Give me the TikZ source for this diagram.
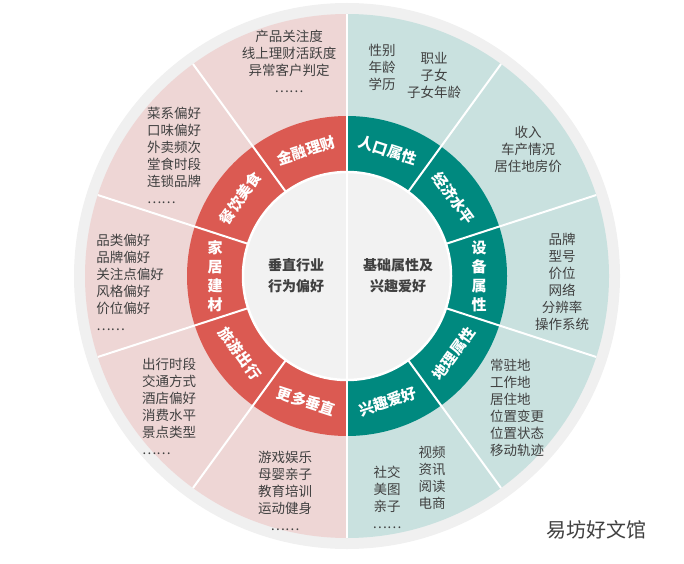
\documentclass[tikz,border=0pt]{standalone}
\usepackage{fontspec}
\setmainfont{Noto Sans CJK SC}
\usetikzlibrary{calc}
\definecolor{ringred}{HTML}{DB5A52}
\definecolor{ringteal}{HTML}{00897F}
\definecolor{lightred}{HTML}{EED6D5}
\definecolor{lightteal}{HTML}{C9E1DF}
\definecolor{txtgray}{HTML}{404040}
\begin{document}
\begin{tikzpicture}[x=1pt,y=1pt,
    item/.style={text=txtgray, font=\fontsize{13.5}{17}\selectfont, align=center, inner sep=0pt},
    tag/.style={text=white, font=\fontsize{15}{18}\selectfont\bfseries, inner sep=0pt}]
  \useasboundingbox (0,0) rectangle (684,563);
  \coordinate (c) at (347,287);
  % rings
  \fill[gray!12] (c) circle (273);
  \fill[lightred] (c) -- ++(90:262) arc (90:270:262) -- cycle;
  \fill[lightteal] (c) -- ++(-90:262) arc (-90:90:262) -- cycle;
  \fill[ringred] (c) -- ++(90:160) arc (90:270:160) -- cycle;
  \fill[ringteal] (c) -- ++(-90:160) arc (-90:90:160) -- cycle;
  \fill[gray!10] (c) circle (104);
  \draw[white, line width=2.5pt] (c) circle (104);
  \foreach \a in {126,162,198,234,54,18,-18,-54}
    \draw[white, line width=2pt] ($(c)+(\a:104)$) -- ($(c)+(\a:262)$);
  \draw[white, line width=2pt] ($(c)+(90:262)$) -- ($(c)+(-90:262)$);
  % center texts
  \node (vert) at (296,287) [item, font=\fontsize{14}{21}\selectfont\bfseries] {垂直行业\\行为偏好};
  \node (base) at (398,287) [item, font=\fontsize{14}{21}\selectfont\bfseries] {基础属性及\\兴趣爱好};
  % ring labels
  \foreach \a/\t in {108/金融理财, 144/餐饮美食, 72/人口属性, 36/经济水平}
    \node[tag, rotate=\a-90] at ($(c)+(\a:132)$) {\t};
  \foreach \a/\t in {216/旅游出行, 252/更多垂直, -36/地理属性, -72/兴趣爱好}
    \node[tag, rotate=\a+90] at ($(c)+(\a:132)$) {\t};
  \node (home) at ($(c)+(180:132)$) [tag, align=center, font=\fontsize{15}{19}\selectfont\bfseries] {家\\居\\建\\材};
  \node (device) at ($(c)+(0:132)$) [tag, align=center, font=\fontsize{15}{19}\selectfont\bfseries] {设\\备\\属\\性};
  % outer lists
  \node (fin) at (289,502) [item] {产品关注度\\线上理财活跃度\\异常客户判定\\……};
  \node (food) at (174,408) [item, align=left] {菜系偏好\\口味偏好\\外卖频次\\堂食时段\\连锁品牌\\……};
  \node (deco) at (130,281) [item, align=left] {品类偏好\\品牌偏好\\关注点偏好\\风格偏好\\价位偏好\\……};
  \node (trip) at (169,157) [item, align=left] {出行时段\\交通方式\\酒店偏好\\消费水平\\景点类型\\……};
  \node (more) at (285,72) [item] {游戏娱乐\\母婴亲子\\教育培训\\运动健身\\……};
  \node (pop1) at (382,496) [item] {性别\\年龄\\学历};
  \node (pop2) at (434,488) [item] {职业\\子女\\子女年龄};
  \node (econ) at (528,414) [item] {收入\\车产情况\\居住地房价};
  \node (dev) at (562,281) [item] {品牌\\型号\\价位\\网络\\分辨率\\操作系统};
  \node (geo) at (517,155) [item, align=left] {常驻地\\工作地\\居住地\\位置变更\\位置状态\\移动轨迹};
  \node (hob1) at (387,66) [item] {社交\\美图\\亲子\\……};
  \node (hob2) at (432,85) [item] {视频\\资讯\\阅读\\电商};
  \node (mark) at (596,33) [fill=white, text=txtgray, font=\fontsize{20}{22}\selectfont, inner sep=3pt] {易坊好文馆};
\end{tikzpicture}
\end{document}
